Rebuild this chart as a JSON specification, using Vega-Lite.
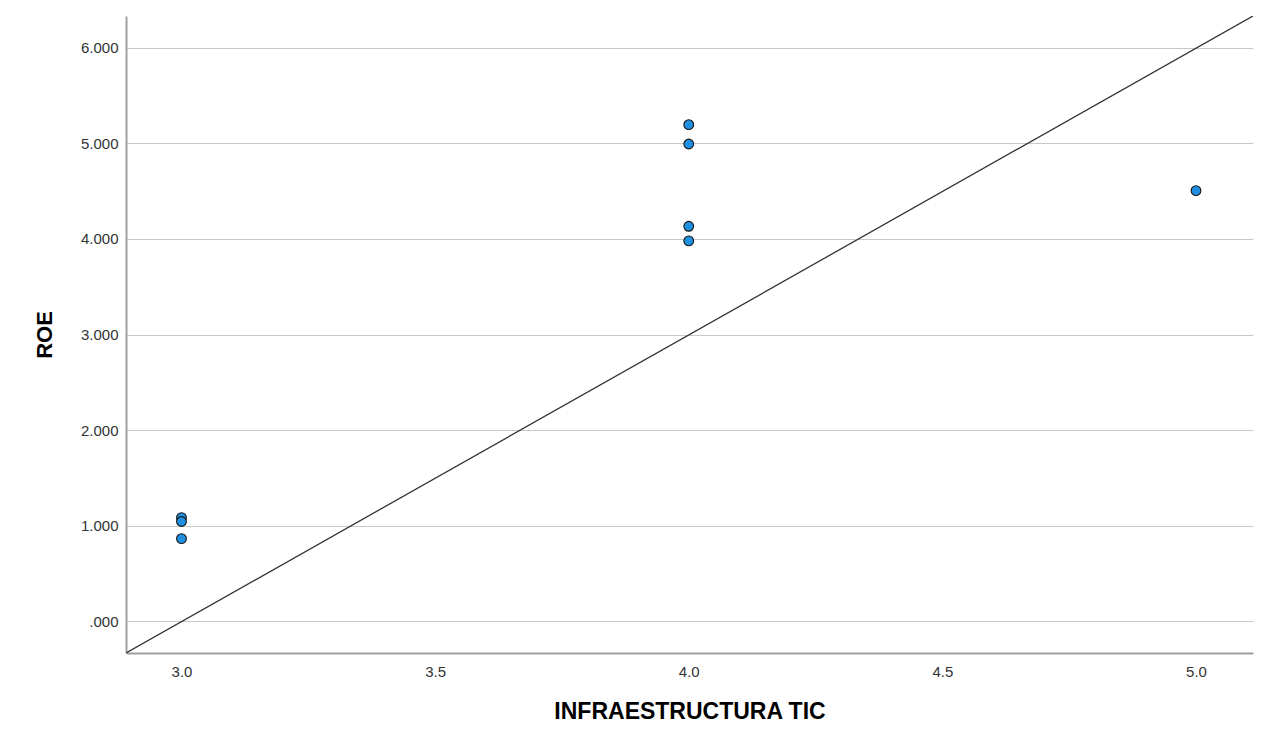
{
  "$schema": "https://vega.github.io/schema/vega-lite/v6.json",
  "autosize": {"type": "none"},
  "width": 1127,
  "height": 637,
  "padding": {"left": 126, "top": 16, "right": 15, "bottom": 96},
  "background": "white",
  "config": {
    "view": {"stroke": null},
    "font": "Liberation Sans"
  },
  "datasets": {
    "points": [
      {"infra": 3.0, "roe": 1.084},
      {"infra": 3.0, "roe": 1.044},
      {"infra": 3.0, "roe": 0.864},
      {"infra": 4.0, "roe": 5.195},
      {"infra": 4.0, "roe": 4.993},
      {"infra": 4.0, "roe": 4.132},
      {"infra": 4.0, "roe": 3.979},
      {"infra": 5.0, "roe": 4.505}
    ],
    "refline": [
      {"infra": 2.8906, "roe": -0.332},
      {"infra": 5.1124, "roe": 6.332}
    ]
  },
  "layer": [
    {
      "data": {"name": "refline"},
      "mark": {"type": "line", "color": "#333333", "strokeWidth": 1.3, "clip": true},
      "encoding": {
        "x": {"field": "infra", "type": "quantitative"},
        "y": {"field": "roe", "type": "quantitative"}
      }
    },
    {
      "data": {"name": "points"},
      "mark": {"type": "point", "filled": true, "fill": "#1f8fe0", "stroke": "#141414", "strokeWidth": 1.1, "size": 95, "opacity": 1},
      "encoding": {
        "x": {
          "field": "infra", "type": "quantitative",
          "scale": {"domain": [2.8906, 5.1124], "nice": false, "zero": false},
          "axis": {
            "title": "INFRAESTRUCTURA TIC",
            "values": [3, 3.5, 4, 4.5, 5],
            "format": ".1f",
            "grid": false,
            "ticks": false,
            "domainColor": "#a0a0a0",
            "domainWidth": 2,
            "labelFontSize": 15,
            "labelColor": "#333333",
            "labelPadding": 11,
            "titleFontSize": 23,
            "titleFontWeight": "bold",
            "titleColor": "#000000",
            "titlePadding": 21
          }
        },
        "y": {
          "field": "roe", "type": "quantitative",
          "scale": {"domain": [-0.332, 6.332], "nice": false, "zero": false},
          "axis": {
            "title": "ROE",
            "values": [0, 1, 2, 3, 4, 5, 6],
            "labelExpr": "datum.value == 0 ? '.000' : format(datum.value, '.3f')",
            "grid": true,
            "gridColor": "#c8c8c8",
            "gridWidth": 1,
            "ticks": false,
            "domainColor": "#a0a0a0",
            "domainWidth": 2,
            "labelFontSize": 15,
            "labelColor": "#333333",
            "labelPadding": 8,
            "titleFontSize": 22,
            "titleFontWeight": "bold",
            "titleColor": "#000000",
            "titlePadding": 24
          }
        }
      }
    }
  ]
}
